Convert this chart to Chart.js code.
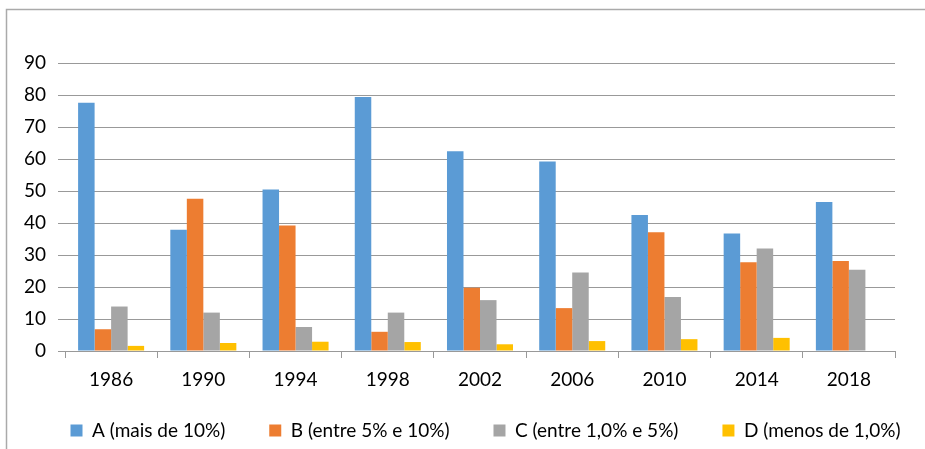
<!DOCTYPE html>
<html>
<head>
<meta charset="utf-8">
<script src="https://cdn.jsdelivr.net/npm/chart.js@4/dist/chart.umd.min.js"></script>
<style>
  html, body { margin: 0; padding: 0; background: #ffffff; }
  #wrap { position: relative; width: 925px; height: 449px; }
</style>
</head>
<body>
<div id="wrap"><canvas id="c" width="925" height="449"></canvas></div>
<script>
const categories = ["1986", "1990", "1994", "1998", "2002", "2006", "2010", "2014", "2018"];
const seriesNames = ["A (mais de 10%)", "B (entre 5% e 10%)", "C (entre 1,0% e 5%)", "D (menos de 1,0%)"];
const seriesA = [77.6, 37.9, 50.5, 79.4, 62.4, 59.2, 42.5, 36.7, 46.6];
const seriesB = [6.8, 47.6, 39.2, 6.0, 19.8, 13.4, 37.1, 27.7, 28.1];
const seriesC = [13.9, 12.0, 7.5, 12.0, 15.9, 24.5, 16.9, 32.0, 25.4];
const seriesD = [1.6, 2.5, 2.9, 2.8, 2.1, 3.1, 3.7, 4.1, null];
const yTicks = [0, 10, 20, 30, 40, 50, 60, 70, 80, 90];

const colors = ["#5B9BD5", "#ED7D31", "#A5A5A5", "#FFC000"];
const FONT = "Lato, 'Open Sans', sans-serif";
const FS = 19;
const gridColor = "#999999";

const frame = {
  id: "frame",
  afterLayout(chart) {
    const lg = chart.legend;
    if (lg) {
      const dy = -16, dx = 23;
      lg.top += dy; lg.bottom += dy;
      lg.left += dx; lg.right += dx;
    }
  },
  afterDraw(chart) {
    const ctx = chart.ctx;
    ctx.save();
    ctx.strokeStyle = "#aaaaaa";
    ctx.lineWidth = 1.5;
    ctx.beginPath();
    ctx.moveTo(6.5, 449);
    ctx.lineTo(6.5, 9.5);
    ctx.lineTo(925, 9.5);
    ctx.stroke();
    ctx.restore();
  }
};

const allSeries = [seriesA, seriesB, seriesC, seriesD];

new Chart(document.getElementById("c"), {
  type: "bar",
  data: {
    labels: categories,
    datasets: allSeries.map((d, i) => ({
      label: seriesNames[i],
      data: d,
      backgroundColor: colors[i],
      borderWidth: 0,
      categoryPercentage: 0.716,
      barPercentage: 1.0
    }))
  },
  options: {
    responsive: false,
    animation: false,
    devicePixelRatio: 1,
    layout: { padding: { top: 63, left: 0, right: 0, bottom: -17 } },
    plugins: {
      tooltip: { enabled: false },
      title: { display: false },
      legend: {
        position: "bottom",
        align: "center",
        labels: {
          boxWidth: 12,
          boxHeight: 12,
          padding: 44,
          color: "#000000",
          font: { family: FONT, size: FS }
        }
      }
    },
    scales: {
      x: {
        grid: {
          display: true,
          drawOnChartArea: false,
          drawTicks: true,
          tickLength: 7,
          color: gridColor,
          offset: true
        },
        border: { display: true, color: gridColor, width: 1 },
        ticks: {
          color: "#000000",
          font: { family: FONT, size: FS },
          padding: 10,
          maxRotation: 0
        },
        afterFit(s) { s.height = 42; }
      },
      y: {
        min: 0,
        max: 90,
        afterBuildTicks(s) { s.ticks = yTicks.map(v => ({ value: v })); },
        grid: {
          color: gridColor,
          drawTicks: true,
          tickLength: 7
        },
        border: { display: false },
        ticks: {
          color: "#000000",
          font: { family: FONT, size: FS },
          padding: 12,
          autoSkip: false
        },
        afterFit(s) { s.width = 65; }
      },
      yR: {
        position: "right",
        display: true,
        grid: { display: false, drawTicks: false },
        border: { display: false },
        ticks: { display: false },
        afterFit(s) { s.width = 30; }
      }
    }
  },
  plugins: [frame]
});
</script>
</body>
</html>
